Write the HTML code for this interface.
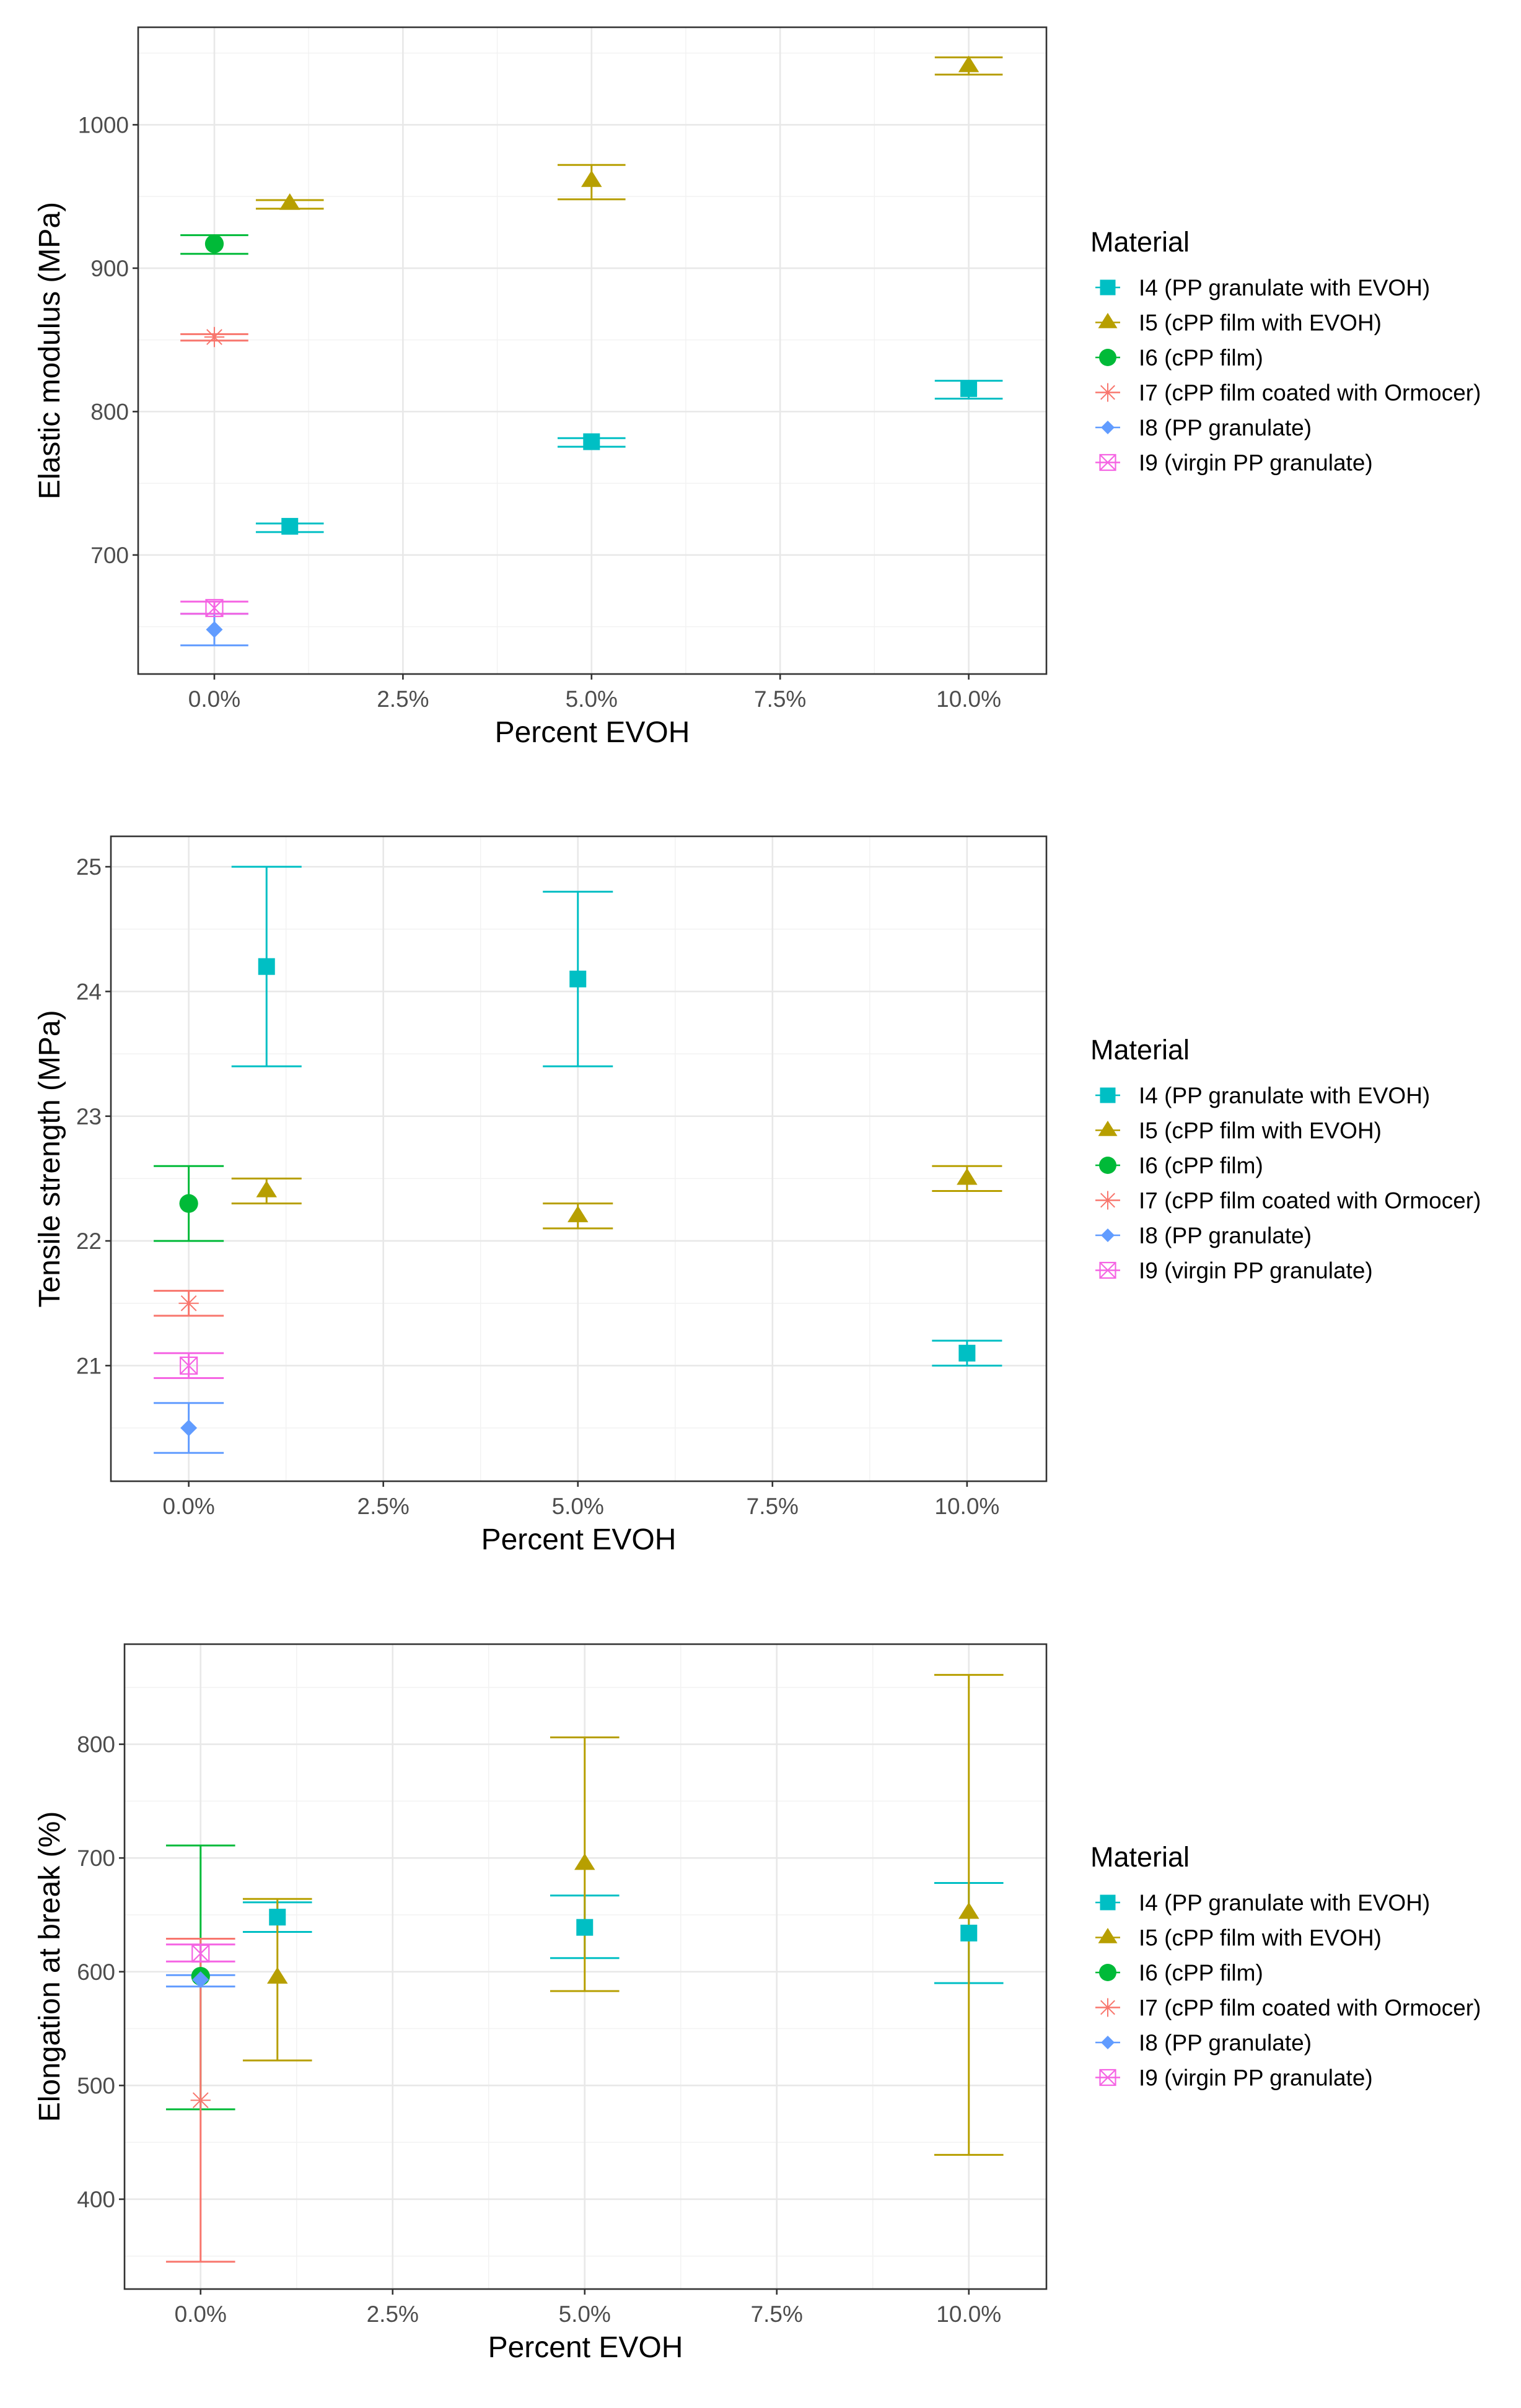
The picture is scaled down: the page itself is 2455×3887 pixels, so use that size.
<!DOCTYPE html>
<html><head><meta charset="utf-8">
<style>
html,body{margin:0;padding:0;background:#fff;}
svg{display:block;font-family:"Liberation Sans",Arial,sans-serif;}
</style></head>
<body>
<svg id="chart" width="2455" height="3887" viewBox="0 0 2455 3887" xmlns="http://www.w3.org/2000/svg"></svg>
<script>
const materials = ["I4 (PP granulate with EVOH)","I5 (cPP film with EVOH)","I6 (cPP film)","I7 (cPP film coated with Ormocer)","I8 (PP granulate)","I9 (virgin PP granulate)"];
const matColors = ["#00BFC4","#B79F00","#00BA38","#F8766D","#619CFF","#F564E3"];
const matShapes = ["square","triangle","circle","asterisk","diamond","boxx"];
const xTickValues = [0,2.5,5,7.5,10];
const xTickLabels = ["0.0%","2.5%","5.0%","7.5%","10.0%"];

// Panel 1: Elastic modulus
const p1Mat  = [0,0,0,1,1,1,2,3,4,5];
const p1X    = [1,5,10,1,5,10,0,0,0,0];
const p1Mean = [720,779,816,945,961,1041,917,852,648,663];
const p1Lo   = [716,775.5,809,941.5,948,1035,910,849.5,637,659];
const p1Hi   = [722,781.5,821.5,947.5,972,1047,923,854,659,667.5];
const p1YTicks = [700,800,900,1000];

// Panel 2: Tensile strength
const p2Mat  = [0,0,0,1,1,1,2,3,4,5];
const p2X    = [1,5,10,1,5,10,0,0,0,0];
const p2Mean = [24.2,24.1,21.1,22.4,22.2,22.5,22.3,21.5,20.5,21.0];
const p2Lo   = [23.4,23.4,21.0,22.3,22.1,22.4,22.0,21.4,20.3,20.9];
const p2Hi   = [25.0,24.8,21.2,22.5,22.3,22.6,22.6,21.6,20.7,21.1];
const p2YTicks = [21,22,23,24,25];

// Panel 3: Elongation at break
const p3Mat  = [0,0,0,1,1,1,2,3,4,5];
const p3X    = [1,5,10,1,5,10,0,0,0,0];
const p3Mean = [648,639,634,595,695,652,596,487,593,616];
const p3Lo   = [635,612,590,522,583,439,479,345,587,609];
const p3Hi   = [661,667,678,664,806,861,711,629,597,624];
const p3YTicks = [400,500,600,700,800];

const NS="http://www.w3.org/2000/svg";
const svg=document.getElementById('chart');
function mk(tag,attrs,parent){const e=document.createElementNS(NS,tag);for(const k in attrs)e.setAttribute(k,attrs[k]);(parent||svg).appendChild(e);return e;}

function drawMarker(g,shape,cx,cy,color,s){
  let m;
  if(shape==="square"){m=mk('rect',{x:cx-s*0.5,y:cy-s*0.5,width:s,height:s,fill:color},g);}
  else if(shape==="triangle"){const h=s*0.62;m=mk('polygon',{points:`${cx},${cy-h} ${cx-s*0.62},${cy+h*0.6} ${cx+s*0.62},${cy+h*0.6}`,fill:color},g);}
  else if(shape==="circle"){m=mk('circle',{cx:cx,cy:cy,r:s*0.56,fill:color},g);}
  else if(shape==="diamond"){const r=s*0.5;m=mk('polygon',{points:`${cx},${cy-r} ${cx+r},${cy} ${cx},${cy+r} ${cx-r},${cy}`,fill:color},g);}
  else if(shape==="asterisk"){const r=s*0.6;m=mk('path',{d:`M${cx-r},${cy}H${cx+r}M${cx},${cy-r}V${cy+r}M${cx-r*0.75},${cy-r*0.75}L${cx+r*0.75},${cy+r*0.75}M${cx-r*0.75},${cy+r*0.75}L${cx+r*0.75},${cy-r*0.75}`,stroke:color,'stroke-width':2,fill:'none'},g);}
  else {const r=s*0.5;m=mk('path',{d:`M${cx-r},${cy-r}h${2*r}v${2*r}h${-2*r}z M${cx-r},${cy-r}L${cx+r},${cy+r}M${cx-r},${cy+r}L${cx+r},${cy-r}`,stroke:color,'stroke-width':2.2,fill:'none'},g);}
  return m;
}

function drawPanel(cfg){
  const {L,R,T,B,yMin,yMax,xMin,xMax,yTicks,mat,xs,mean,lo,hi,yTitle,name,legendY}=cfg;
  const g=mk('g',{});
  
  
  const sx=v=>L+(v-xMin)/(xMax-xMin)*(R-L);
  const sy=v=>B-(v-yMin)/(yMax-yMin)*(B-T);
  const grid=mk('g',{},g);
  
  
  const yStep=yTicks[1]-yTicks[0];
  for(let v=yTicks[0]-yStep/2; v<=yMax; v+=yStep){ if(v<yMin)continue; mk('line',{x1:L,x2:R,y1:sy(v),y2:sy(v),stroke:'#f2f2f2','stroke-width':1.5},grid);}
  for(let i=0;i<xTickValues.length-1;i++){const v=(xTickValues[i]+xTickValues[i+1])/2; mk('line',{x1:sx(v),x2:sx(v),y1:T,y2:B,stroke:'#f2f2f2','stroke-width':1.5},grid);}
  yTicks.forEach(v=>mk('line',{x1:L,x2:R,y1:sy(v),y2:sy(v),stroke:'#e8e8e8','stroke-width':2.6},grid));
  xTickValues.forEach(v=>mk('line',{x1:sx(v),x2:sx(v),y1:T,y2:B,stroke:'#e8e8e8','stroke-width':2.6},grid));
  for(let i=0;i<mean.length;i++){
    const c=matColors[mat[i]];
    const eb=mk('path',{d:`M${sx(xs[i]-0.45)},${sy(hi[i])}H${sx(xs[i]+0.45)}M${sx(xs[i])},${sy(hi[i])}V${sy(lo[i])}M${sx(xs[i]-0.45)},${sy(lo[i])}H${sx(xs[i]+0.45)}`,stroke:c,'stroke-width':3,fill:'none'},g);
    
    
  }
  for(let i=0;i<mean.length;i++){
    const m=drawMarker(g,matShapes[mat[i]],sx(xs[i]),sy(mean[i]),matColors[mat[i]],27);
    
    
  }
  const border=mk('rect',{x:L,y:T,width:R-L,height:B-T,fill:'none',stroke:'#333','stroke-width':2.6},g);
  
  
  yTicks.forEach(v=>{
    mk('line',{x1:L-9,x2:L,y1:sy(v),y2:sy(v),stroke:'#333','stroke-width':2.6},g);
    const t=mk('text',{x:L-15,y:sy(v)+13,'text-anchor':'end','font-size':37,fill:'#4d4d4d'},g);
    t.textContent=v;
    
    
  });
  xTickValues.forEach((v,i)=>{
    mk('line',{x1:sx(v),x2:sx(v),y1:B,y2:B+9,stroke:'#333','stroke-width':2.6},g);
    const t=mk('text',{x:sx(v),y:B+53,'text-anchor':'middle','font-size':37,fill:'#4d4d4d'},g);
    t.textContent=xTickLabels[i];
    
    
  });
  const xt=mk('text',{x:(L+R)/2,y:B+110,'text-anchor':'middle','font-size':48,fill:'#000'},g);
  xt.textContent='Percent EVOH';
  
  
  const yc=(T+B)/2;
  const yt=mk('text',{x:96,y:yc,'text-anchor':'middle','font-size':48,fill:'#000',transform:`rotate(-90 96 ${yc})`},g);
  yt.textContent=yTitle;
  
  
  const lg=mk('g',{},g);
  
  
  const lt=mk('text',{x:1760,y:legendY-58,'font-size':45,fill:'#000'},lg);
  lt.textContent='Material';
  
  
  materials.forEach((m,i)=>{
    const y=legendY+i*56.5;
    const e=mk('g',{},lg);
    
    
    mk('line',{x1:1768,x2:1808,y1:y,y2:y,stroke:matColors[i],'stroke-width':2.5},e);
    drawMarker(e,matShapes[i],1788,y,matColors[i],i===4?22:25);
    const t=mk('text',{x:1838,y:y+13,'font-size':37,fill:'#000'},e);
    t.textContent=m;
  });
}

drawPanel({L:223,R:1689,T:44,B:1088,yMin:617,yMax:1068,xMin:-1.01,xMax:11.03,yTicks:p1YTicks,mat:p1Mat,xs:p1X,mean:p1Mean,lo:p1Lo,hi:p1Hi,yTitle:'Elastic modulus (MPa)',name:'elastic-modulus-panel',legendY:464});
drawPanel({L:179,R:1689,T:1350,B:2391,yMin:20.073,yMax:25.244,xMin:-1.0,xMax:11.02,yTicks:p2YTicks,mat:p2Mat,xs:p2X,mean:p2Mean,lo:p2Lo,hi:p2Hi,yTitle:'Tensile strength (MPa)',name:'tensile-strength-panel',legendY:1768});
drawPanel({L:201,R:1689,T:2654,B:3695,yMin:321,yMax:888,xMin:-0.99,xMax:11.01,yTicks:p3YTicks,mat:p3Mat,xs:p3X,mean:p3Mean,lo:p3Lo,hi:p3Hi,yTitle:'Elongation at break (%)',name:'elongation-panel',legendY:3071});
</script>
</body></html>
